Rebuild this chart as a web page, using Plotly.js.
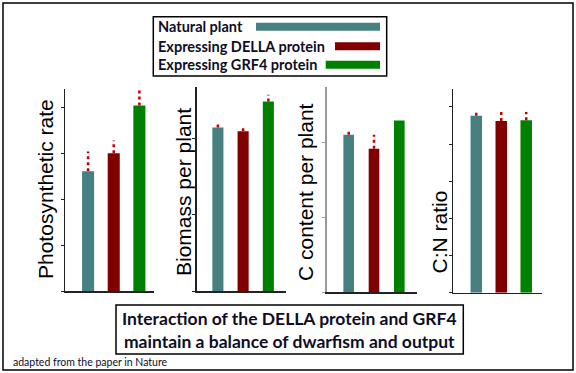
<!DOCTYPE html>
<html>
<head>
<meta charset="utf-8">
<script src="https://cdn.plot.ly/plotly-3.0.1.min.js"></script>
<style>html,body{margin:0;padding:0;background:#fff;}#chart{width:576px;height:373px;}</style>
</head>
<body>
<div id="chart"></div>
<script>
// ---- data ----
var groups = ['Natural plant', 'Expressing DELLA protein', 'Expressing GRF4 protein'];
var panelTitles = ['Photosynthetic rate', 'Biomass per plant', 'C content per plant', 'C:N ratio'];
var photosynthetic = [2.61, 3.00, 4.04];
var photosyntheticErr = [0.43, 0.28, 0.33];
var biomass = [2.14, 2.09, 2.48];
var biomassErr = [0.05, 0.07, 0.09];
var carbon = [2.11, 1.92, 2.30];
var carbonErr = [0.05, 0.19, 0];
var cnRatio = [4.76, 4.62, 4.64];
var cnRatioErr = [0.10, 0.24, 0.22];
var mainText = ['Interaction of the DELLA protein and GRF4', 'maintain a balance of dwarfism and output'];
var footnote = 'adapted from the paper in Nature';

// ---- style ----
var W = 576, H = 373;
function px(x) { return x / W; }
function py(y) { return 1 - y / H; }
var colors = ['#468080', '#800000', '#008000'];
var errColor = '#c40000';
var textColor = '#0d0d26';

var panels = [
  {vals: photosynthetic, errs: photosyntheticErr, xd: [65, 154], yd: [291, 89], xr: [-0.9, 2.57], yr: [0, 4.40], dtick: 1, bw: 0.47, axc: '#222', axw: 1.5, tx: 45, tb: 281},
  {vals: biomass, errs: biomassErr, xd: [196.7, 286], yd: [291, 87], xr: [-0.84, 2.70], yr: [0, 2.67], dtick: 1, bw: 0.44, axc: '#222', axw: 1.5, tx: 183, tb: 278},
  {vals: carbon, errs: carbonErr, xd: [326.7, 417], yd: [292, 87], xr: [-0.87, 2.70], yr: [0, 2.75], dtick: 1, bw: 0.42, axc: '#999', axw: 2, tx: 305, tb: 283},
  {vals: cnRatio, errs: cnRatioErr, xd: [453.3, 541.7], yd: [292.7, 89], xr: [-0.92, 2.62], yr: [0, 5.48], dtick: 1, bw: 0.46, axc: '#222', axw: 1.5, tx: 439, tb: 276}
];

var traces = [];
var layout = {
  width: W, height: H,
  margin: {l: 0, r: 0, t: 0, b: 0},
  paper_bgcolor: '#ffffff', plot_bgcolor: '#ffffff',
  showlegend: false,
  annotations: [], shapes: []
};

panels.forEach(function (p, i) {
  var n = i === 0 ? '' : String(i + 1);
  var xa = 'x' + n, ya = 'y' + n;
  traces.push({
    type: 'bar', x: groups, y: p.vals, xaxis: xa, yaxis: ya,
    width: p.bw, marker: {color: colors, line: {width: 0}}, hoverinfo: 'skip'
  });
  var ex = [], ey = [];
  groups.forEach(function (g, k) {
    if (p.errs[k] > 0) {
      ex.push(g, g, null);
      ey.push(p.vals[k], p.vals[k] + p.errs[k], null);
    }
  });
  traces.push({
    type: 'scatter', mode: 'lines', x: ex, y: ey, xaxis: xa, yaxis: ya,
    line: {color: errColor, width: 2.5, dash: 'dot'}, hoverinfo: 'skip', connectgaps: false
  });
  layout['xaxis' + n] = {
    domain: [px(p.xd[0]), px(p.xd[1])], range: p.xr, type: 'category', categoryarray: groups,
    anchor: ya, showline: true, linecolor: '#222', linewidth: 1.5, showgrid: false, zeroline: false,
    showticklabels: false, ticks: '', fixedrange: true
  };
  layout['yaxis' + n] = {
    domain: [py(p.yd[0]), py(p.yd[1])], range: p.yr, dtick: p.dtick, tick0: 0,
    anchor: xa, showline: true, linecolor: p.axc, linewidth: p.axw, showgrid: false, zeroline: false,
    showticklabels: false, ticks: 'outside', ticklen: 3, tickwidth: 1, tickcolor: p.axc, fixedrange: true
  };
  layout.annotations.push({
    xref: 'paper', yref: 'paper', x: px(p.tx), y: py(p.tb), xanchor: 'center', yanchor: 'bottom',
    text: panelTitles[i], textangle: -90, showarrow: false,
    font: {family: 'Liberation Sans, Arial, sans-serif', size: 21, color: '#000'}
  });
});

// legend box
var legRows = [26.7, 46.2, 64.7];
var legBarLeft = [256, 335, 325.7];
layout.shapes.push({type: 'rect', xref: 'paper', yref: 'paper', x0: px(153.3), x1: px(386.7), y0: py(76), y1: py(16.7), line: {color: '#000', width: 1.5}, fillcolor: 'rgba(0,0,0,0)'});
groups.forEach(function (g, k) {
  layout.annotations.push({
    xref: 'paper', yref: 'paper', x: px(156), y: py(legRows[k]), xanchor: 'left', yanchor: 'middle',
    text: '<b>' + g + '</b>', showarrow: false,
    font: {family: 'Lato, sans-serif', size: 14.5, color: textColor}
  });
  layout.shapes.push({type: 'rect', xref: 'paper', yref: 'paper', x0: px(legBarLeft[k]), x1: px(380), y0: py(legRows[k] + 4), y1: py(legRows[k] - 4), line: {width: 0}, fillcolor: colors[k]});
});

// bottom box
layout.shapes.push({type: 'rect', xref: 'paper', yref: 'paper', x0: px(116), x1: px(463.3), y0: py(354), y1: py(305), line: {color: '#000', width: 1.5}, fillcolor: 'rgba(0,0,0,0)'});
layout.annotations.push({
  xref: 'paper', yref: 'paper', x: px(289.5), y: py(329.5), xanchor: 'center', yanchor: 'middle',
  text: '<b>' + mainText.join('<br>') + '</b>', showarrow: false, align: 'center',
  font: {family: 'Lato, sans-serif', size: 17.5, color: textColor}
});
layout.annotations.push({
  xref: 'paper', yref: 'paper', x: px(11), y: py(362), xanchor: 'left', yanchor: 'middle',
  text: footnote, showarrow: false,
  font: {family: 'Lato, sans-serif', size: 10.5, color: textColor}
});

// outer frame
layout.shapes.push({type: 'rect', xref: 'paper', yref: 'paper', x0: px(3), x1: px(573), y0: py(370), y1: py(3), line: {color: '#000', width: 1.5}, fillcolor: 'rgba(0,0,0,0)'});

Plotly.newPlot('chart', traces, layout, {displayModeBar: false, staticPlot: true});
</script>
</body>
</html>
